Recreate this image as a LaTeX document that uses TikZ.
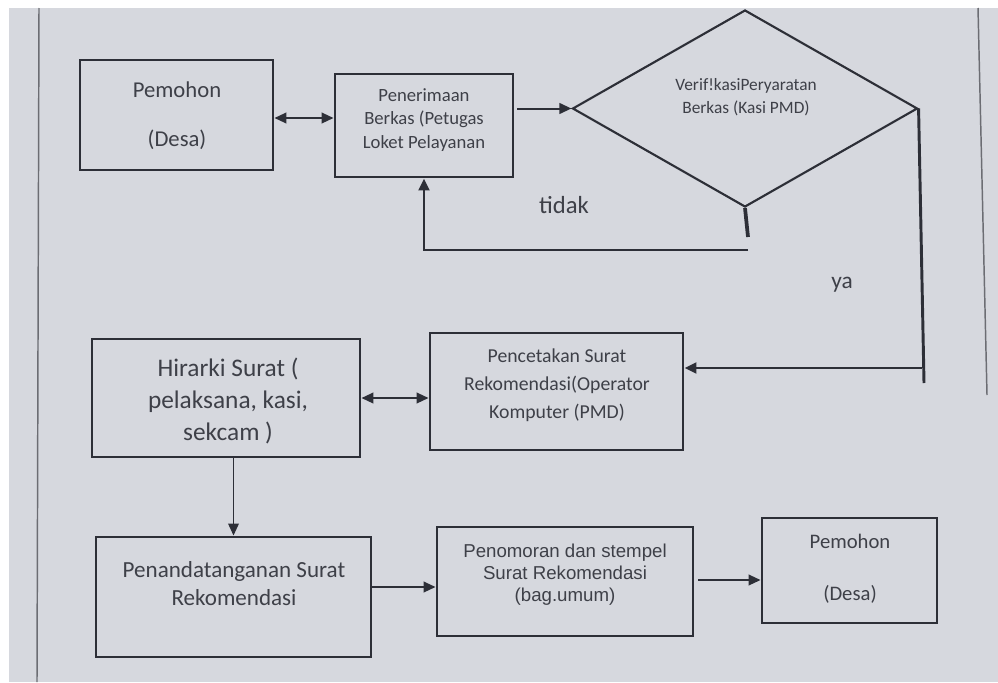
\documentclass[tikz,border=0pt]{standalone}
\usepackage{fontspec}
\setmainfont{Carlito}
\newfontfamily\arialfont{Liberation Sans}
\usetikzlibrary{shapes.geometric,arrows.meta}
\definecolor{paper}{RGB}{214,216,222}
\definecolor{ink}{RGB}{45,47,55}
\definecolor{txtc}{RGB}{62,64,72}
\begin{document}
\begin{tikzpicture}[x=0.75pt,y=-0.75pt,
  box/.style={draw=ink,line width=2.2pt,rectangle,inner sep=0pt},
  dia/.style={draw=ink,line width=1.6pt,diamond,inner sep=0pt,aspect=1.75},
  txt/.style={text=txtc,align=center,inner sep=0pt},
  arr/.style={draw=ink,line width=1.5pt,-{Triangle[length=9pt,width=8pt]}},
  darr/.style={draw=ink,line width=1.5pt,{Triangle[length=9pt,width=8pt]}-{Triangle[length=9pt,width=8pt]}},
  ln/.style={draw=ink,line width=2.2pt},
  pg/.style={draw=ink!70,line width=1.1pt}]
\useasboundingbox (0,0) rectangle (998,682);
\fill[white] (0,0) rectangle (998,682);
\fill[paper] (9,8) rectangle (998,682);
% page edges
\draw[pg] (39,8) -- (37,682);
\draw[pg] (978,8) -- (987,395);
% boxes
\node[box,minimum width=144.75pt,minimum height=82.5pt] (b1) at (176.5,115) {};
\node[box,minimum width=133.5pt,minimum height=77.25pt] (b2) at (424,125.5) {};
\node[dia,minimum width=258.75pt,minimum height=147.75pt] (dm) at (745,108.5) {};
\node[box,minimum width=201pt,minimum height=88.5pt] (hi) at (226,398) {};
\node[box,minimum width=189.75pt,minimum height=87.75pt] (pc) at (556.5,391.5) {};
\node[box,minimum width=206.25pt,minimum height=90pt] (pd) at (233.5,597) {};
\node[box,minimum width=192pt,minimum height=81.75pt] (pn) at (565,581.5) {};
\node[box,minimum width=131.25pt,minimum height=78.75pt] (pm) at (849.5,570.5) {};
% texts
\node[txt,font=\fontsize{17}{37}\selectfont] (t1) at (177,116) {Pemohon\\(Desa)};
\node[txt,font=\fontsize{14}{17.5}\selectfont] (t2) at (424,120) {Penerimaan\\Berkas (Petugas\\Loket Pelayanan};
\node[txt,font=\fontsize{13}{17.5}\selectfont] (t3) at (746,97.5) {Verif!kasiPeryaratan\\Berkas (Kasi PMD)};
\node[txt,font=\fontsize{19}{24}\selectfont] (t4) at (228,401) {Hirarki Surat (\\pelaksana, kasi,\\sekcam )};
\node[txt,font=\fontsize{14.8}{21}\selectfont] (t5) at (557,385) {Pencetakan Surat\\Rekomendasi(Operator\\Komputer (PMD)};
\node[txt,font=\fontsize{17.3}{21}\selectfont] (t6) at (234,584) {Penandatanganan Surat\\Rekomendasi};
\node[txt,font=\arialfont\fontsize{14}{16.5}\selectfont] (t7) at (565,575) {Penomoran dan stempel\\Surat Rekomendasi\\(bag.umum)};
\node[txt,font=\fontsize{15.5}{39}\selectfont] (t8) at (850,569) {Pemohon\\(Desa)};
\node[txt,font=\fontsize{18.5}{22}\selectfont] (tidak) at (564,205) {tidak};
\node[txt,font=\fontsize{17.5}{22}\selectfont] (ya) at (842,285) {ya};
% connectors
\draw[darr] (b1.east |- 0,118) -- (b2.west |- 0,118);
\draw[arr] ([xshift=2pt]b2.east |- dm.west) -- (dm.west);
\coordinate (st) at (748,237);
\draw[draw=ink,line width=2.8pt] (dm.south) -- (st);
\coordinate (lp) at (748,250);
\draw[arr,line width=2.2pt] (lp) -| (b2.south);
\coordinate (ye) at (924,383);
\draw[ln] (dm.east) -- (ye);
\coordinate (ya0) at (922,368);
\draw[arr,line width=2.2pt] (ya0) -- (pc.east |- ya0);
\draw[darr] (hi.east |- 0,398) -- (pc.west |- 0,398);
\draw[arr,line width=1pt] (pd.north |- hi.south) -- (pd.north);
\draw[arr] (pd.east |- 0,587) -- (pn.west |- 0,587);
\draw[arr,shorten <=3pt] (pn.east |- 0,580) -- (pm.west |- 0,580);
\end{tikzpicture}
\end{document}
